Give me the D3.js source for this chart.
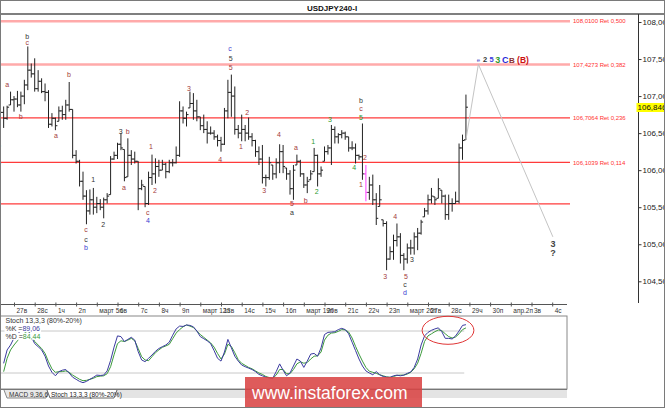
<!DOCTYPE html>
<html>
<head>
<meta charset="utf-8">
<script src="https://cdn.jsdelivr.net/npm/d3@7"></script>
<style>
html,body{margin:0;padding:0;background:#fff;}
svg{display:block;font-family:"Liberation Sans",Arial,sans-serif;}
</style>
</head>
<body>
<svg id="chart" width="665" height="408"></svg>
<script>
// USDJPY H4 bars, one per 4 hours
const barHigh = [106.81,106.86,106.87,107.06,107.00,107.07,107.06,107.22,107.67,107.44,
  107.51,107.35,107.24,107.17,107.08,106.77,106.71,106.86,106.87,106.95,
  107.19,106.82,106.27,106.14,105.98,105.73,105.74,105.76,105.64,105.61,
  105.63,105.69,106.19,106.25,106.37,106.50,106.28,106.43,106.27,106.25,
  106.12,105.87,105.78,105.98,106.21,106.16,106.14,106.14,106.10,106.14,
  106.15,106.32,106.93,106.86,106.79,107.06,107.04,106.95,106.72,106.75,
  106.66,106.59,106.54,106.48,106.45,106.84,107.22,107.29,107.13,106.61,
  106.75,106.61,106.71,106.50,106.41,106.32,106.34,105.94,106.18,106.07,
  106.16,106.35,106.34,106.03,106.00,106.07,106.21,106.14,105.96,105.91,
  106.00,106.30,106.21,106.05,106.32,106.34,106.61,106.59,106.50,106.54,
  106.52,106.45,106.39,106.36,106.21,106.63,106.07,105.91,105.94,105.69,
  105.80,105.33,105.31,104.97,105.13,105.28,105.15,104.88,105.01,105.06,
  105.16,105.22,105.33,105.49,105.67,105.76,105.64,105.89,105.73,105.67,
  105.67,105.62,105.71,106.36,106.48,107.02];
const barLow = [106.52,106.57,106.68,106.88,106.79,106.85,106.79,106.89,107.08,107.25,
  107.06,107.06,107.04,106.93,106.57,106.59,106.54,106.66,106.68,106.68,
  106.79,106.16,106.09,105.78,105.60,105.27,105.40,105.40,105.42,105.46,
  105.35,105.55,105.67,106.14,106.15,106.27,105.85,105.91,106.07,106.09,
  105.46,105.73,105.50,105.53,105.80,105.82,105.91,106.00,105.89,105.96,
  106.05,106.09,106.18,106.63,106.59,106.84,106.68,106.66,106.54,106.50,
  106.36,106.48,106.41,106.32,106.25,106.34,106.70,106.72,106.48,106.43,
  106.39,106.39,106.41,106.32,106.18,106.07,105.82,105.78,105.87,105.87,
  105.89,105.96,105.96,105.87,105.67,105.60,106.07,105.91,105.76,105.69,
  105.87,105.98,105.78,105.91,106.12,106.21,106.07,106.36,106.36,106.43,
  106.41,106.25,106.27,106.09,106.14,105.87,105.58,105.60,105.53,105.26,
  105.51,105.24,104.65,104.79,104.79,104.97,104.74,104.65,104.74,104.86,
  104.86,104.92,105.13,105.37,105.40,105.55,105.53,105.62,105.55,105.33,
  105.33,105.44,105.55,105.55,106.14,106.41];
const barOpen = [106.60,106.78,106.70,106.88,106.95,106.96,106.88,107.00,107.15,107.35,
  107.30,107.10,107.20,107.06,107.05,106.62,106.70,106.66,106.80,106.75,
  106.88,106.82,106.20,106.12,105.85,105.65,105.45,105.60,105.50,105.55,
  105.50,105.60,105.67,106.15,106.20,106.35,106.28,105.91,106.20,106.15,
  106.12,105.75,105.78,105.55,105.90,105.95,106.05,106.00,106.08,105.98,
  106.10,106.10,106.20,106.80,106.70,106.84,106.90,106.80,106.72,106.60,
  106.55,106.50,106.50,106.45,106.40,106.35,106.80,107.05,107.00,106.55,
  106.50,106.55,106.50,106.45,106.40,106.25,106.15,105.90,105.90,106.07,
  105.95,106.10,106.25,106.03,105.95,105.75,106.07,106.12,105.95,105.80,
  105.87,105.98,106.20,105.95,106.12,106.25,106.30,106.55,106.45,106.48,
  106.50,106.45,106.30,106.30,106.20,106.18,105.95,105.70,105.80,105.60,
  105.51,105.33,105.28,104.80,104.90,105.05,105.10,104.85,104.80,104.95,
  104.95,105.10,105.15,105.37,105.45,105.60,105.64,105.62,105.73,105.65,
  105.40,105.55,105.55,105.58,106.30,106.41];
const barClose = [106.78,106.70,106.85,106.95,106.96,106.88,107.00,107.15,107.35,107.30,
  107.10,107.20,107.06,107.05,106.62,106.70,106.60,106.80,106.75,106.88,
  106.82,106.20,106.12,105.85,105.65,105.45,105.60,105.50,105.55,105.50,
  105.60,105.65,106.15,106.20,106.35,106.30,105.90,106.20,106.15,106.12,
  105.75,105.80,105.55,105.90,105.95,106.05,106.00,106.08,105.98,106.10,
  106.10,106.20,106.80,106.70,106.75,106.90,106.80,106.72,106.60,106.55,
  106.50,106.50,106.45,106.40,106.35,106.80,107.05,107.00,106.55,106.50,
  106.55,106.50,106.45,106.40,106.25,106.15,105.90,105.90,106.10,105.95,
  106.10,106.25,106.05,105.95,105.75,106.00,106.12,105.95,105.80,105.85,
  105.95,106.20,105.95,106.00,106.25,106.30,106.55,106.45,106.48,106.50,
  106.45,106.30,106.30,106.20,106.18,105.95,105.70,105.80,105.60,105.35,
  105.60,105.28,104.80,104.90,105.05,105.10,104.85,104.80,104.95,104.95,
  105.10,105.15,105.30,105.45,105.60,105.65,105.60,105.75,105.65,105.40,
  105.55,105.55,105.58,106.30,106.40,106.85];
const markedBar = 106;
const lastPrice = 106.846;

// stochastic 13,3,3, from bar 1
const stochFirst = 1;
const stochK = [33.8,52.9,60,70,76,80,82,84,72,62,57.6,53,44,30,21,16,21.9,24,25,20,
  14,11,8,6.2,8,11,13.8,17,16.5,17,23,38,57,73,72,65,68,71,67,50.5,
  38.6,36.2,41,45.7,51,55,57.6,60,64,74,83,87,86.5,88.6,88,86,80,72,69,66,
  62,52,41,37,50,68,56,44,37,31.4,29,27,25,22,18,16,14,13,12.4,22,
  33,24,16,20,30,40,37,28,37,47,48,44,56,75,78,78.5,79,82,83.8,82,
  76,64,52,40,30,23,20,17.5,22,17.5,15,14,13.8,16,17,16,17,19.5,21.5,28,
  40,60,73,78,81,83,84.5,79,69.5,69.5,68.6,73,80,88,89.06];
const stochD = [21.9,41,52.9,60,66,72,77,80,74,65,60,55,48,36,26,21,21.9,22,23,21,
  17,14,11,9,9.5,11,12.4,14.8,15.5,16,19,29,46,62,66,65,67,69.5,66,55,
  43.3,38.6,37.6,43.3,49,53,56.7,58.6,61,69,77,82,86,88.6,87,85,80,75,71,67,
  63,57,48,40,47,61,58,49,39,33.8,31,28,26,23,20,18,15,13.5,12.4,17,
  25,25,19,19,25,33,36,34,35,40,44,44.5,50,67,74,77,77.6,79.5,82,81.5,
  78.5,70,58,47,37,28,22.5,21,19.5,17.5,16,14.5,13.8,15,16.5,17,17,18.5,21,26,
  34,48,65,73,76,79,81.5,80.5,76,72,70,71.5,76,82,84.44];
const stochLevels = [80, 20];

// Fibonacci retracement levels
const fibPrices = [108.0100, 107.4273, 106.7064, 106.1039];
const fibRatios = [0.500, 0.382, 0.236, 0.114];
const supportLevel = 105.544;

// axis ticks
const priceTicks = [104.5, 105, 105.5, 106, 106.5, 107, 107.5, 108];
const dayIdx = [4,10,16,22,28,34,40,46,52,58,64,70,76,82,88,94,100,106,112,118,124,130,136,142,148,154,160];
const dayLabels = ["27в","28с","1ч","2п","март 5п","6в","7с","8ч","9п","март 12п","13в","14с","15ч","16п",
  "март 19п","20в","21с","22ч","23п","март 26п","27в","28с","29ч","30п","апр.2п","3в","4с"];

// forecast path
const projIdx = [135, 138.6, 160.2];
const projPrice = [106.41, 107.43, 105.10];

// wave marks: bar index, price, text, colour key
const waveLabels = [
  [-0.4,106.33,"5","g"],[-0.4,106.24,"c","r"],[-0.4,106.12,"a","k"],
  [2.06,107.16,"a","r"],[5.94,106.72,"b","r"],[7.86,107.81,"b","k"],[7.86,107.72,"c","r"],
  [19.94,107.29,"b","r"],[16.17,106.47,"a","r"],[26.99,105.87,"1","k"],[29.88,105.26,"2","k"],
  [24.87,105.20,"c","r"],[24.87,105.07,"c","k"],[24.87,104.95,"b","b"],
  [34.93,106.52,"3","k"],[36.96,106.52,"b","r"],[35.88,105.76,"a","r"],
  [43.71,106.32,"1","r"],[44.87,105.73,"2","r"],[42.75,105.43,"c","r"],[42.84,105.32,"4","b"],
  [54.72,107.10,"3","r"],[63.80,106.15,"4","r"],
  [66.61,107.64,"c","b"],[66.81,107.51,"5","k"],[66.81,107.38,"5","r"],
  [69.80,106.32,"1","r"],[71.62,106.78,"2","r"],[76.55,105.72,"3","r"],[80.81,106.48,"4","r"],
  [84.58,105.55,"5","r"],[84.58,105.43,"a","k"],[85.74,106.31,"a","r"],[88.55,105.59,"b","r"],
  [90.75,106.38,"1","g"],[91.74,105.71,"2","g"],[95.59,106.69,"3","g"],[102.64,106.03,"4","g"],
  [104.58,106.94,"b","k"],[104.58,106.83,"c","r"],[104.58,106.71,"5","g"],
  [105.74,106.17,"2","r"],[104.58,105.81,"1","r"],
  [111.62,104.56,"3","r"],[114.52,105.37,"4","r"],[117.62,104.56,"5","r"],
  [117.33,104.46,"c","k"],[117.33,104.35,"d","b"],[119.36,104.80,"3","k"]
];
// target marks at the forecast turn
const targetIdx = [138.58,140.52,142.46,144.2,146.41,148.35,151.54];
const targetText = ["e","2","5","3","C","B","(B)"];
const targetColor = ["#4a4ac8","#333","#3a3ae0","#2e9a2e","#2a2ad8","#8a3030","#cc1111"];
const targetSize = [6,7.5,7.5,9,9,8,8.5];
const targetPrice = 107.49;
const endMark = ["3","?"];
const endMarkPrice = [105.00, 104.89];

const palette = {r:"#a33a3a", k:"#333", b:"#3a3ad0", g:"#2e9a2e"};
const comma = f => v => d3.format(f)(v).replace(".", ",");

const svg = d3.select("#chart");
const xS = d3.scaleLinear().domain([0, 160]).range([0.2, 552.2]);
const yS = d3.scaleLinear().domain([104.5, 108]).range([281.3, 22]);
const sS = d3.scaleLinear().domain([0, 100]).range([387, 317]);

svg.append("rect").attr("width",665).attr("height",408).attr("fill","#fff");

// header
svg.append("text").attr("x",332).attr("y",10.5).attr("text-anchor","middle")
  .attr("font-size",8).attr("font-weight","bold").attr("fill","#111").text("USDJPY240-I");
svg.append("line").attr("x1",0).attr("x2",665).attr("y1",14).attr("y2",14)
  .attr("stroke","#555").attr("stroke-width",1.5);

svg.append("clipPath").attr("id","plotClip").append("rect")
  .attr("x",0).attr("y",15).attr("width",570).attr("height",288);
const plot = svg.append("g").attr("clip-path","url(#plotClip)");

// fib lines
plot.selectAll(".fib").data(fibPrices).enter().append("line")
  .attr("x1",0).attr("x2",570)
  .attr("y1",d=>yS(d)).attr("y2",d=>yS(d))
  .attr("stroke",(d,i)=>fibRatios[i]>=0.38 ? "#ffaaaa" : "#ff3b3b")
  .attr("stroke-width",(d,i)=>fibRatios[i]>=0.38 ? 2.5 : 1.2);
plot.append("line").attr("x1",0).attr("x2",570)
  .attr("y1",yS(supportLevel)).attr("y2",yS(supportLevel))
  .attr("stroke","#ff3b3b").attr("stroke-width",1.2);

svg.selectAll(".fibLbl").data(fibPrices).enter().append("text")
  .attr("x",573).attr("y",d=>yS(d)).attr("dy","0.35em")
  .attr("font-size",6).attr("fill","#ff3030")
  .text((d,i)=>comma(".4f")(d)+" Ret "+comma(".3f")(fibRatios[i]));

// OHLC bars
plot.selectAll(".bar").data(barHigh).enter().append("path")
  .attr("fill","none")
  .attr("stroke",(d,i)=>i===markedBar ? "#ff40ff" : "#222")
  .attr("stroke-width",1)
  .attr("d",(d,i)=>{
    const x = xS(i);
    return `M${x},${yS(barHigh[i])}V${yS(barLow[i])}M${x-2},${yS(barOpen[i])}H${x}M${x},${yS(barClose[i])}H${x+2}`;
  });

// forecast path
plot.append("path")
  .datum(projIdx.map((d,i)=>[d,projPrice[i]]))
  .attr("fill","none").attr("stroke","#c4c4c4").attr("stroke-width",1)
  .attr("d",d3.line().x(d=>xS(d[0])).y(d=>yS(d[1])));

// wave labels
svg.selectAll(".wl").data(waveLabels).enter().append("text")
  .attr("x",d=>xS(d[0])).attr("y",d=>yS(d[1])).attr("dy","0.35em")
  .attr("text-anchor","middle").attr("font-size",7)
  .attr("fill",d=>palette[d[3]]).text(d=>d[2]);

svg.selectAll(".tg").data(targetText).enter().append("text")
  .attr("x",(d,i)=>xS(targetIdx[i])).attr("y",yS(targetPrice)).attr("dy","0.35em")
  .attr("text-anchor","middle").attr("font-weight",(d,i)=>i===0?"normal":"bold")
  .attr("font-size",(d,i)=>targetSize[i]).attr("fill",(d,i)=>targetColor[i]).text(d=>d);

svg.selectAll(".em").data(endMark).enter().append("text")
  .attr("x",xS(projIdx[2])).attr("y",(d,i)=>yS(endMarkPrice[i])).attr("dy","0.35em")
  .attr("text-anchor","middle").attr("font-size",9).attr("font-weight","bold")
  .attr("fill","#444").text(d=>d);

// right price axis
svg.append("line").attr("x1",638.5).attr("x2",638.5).attr("y1",14).attr("y2",303)
  .attr("stroke","#333");
const yAxis = svg.append("g").attr("transform","translate(638.5,0)")
  .call(d3.axisRight(yS).tickValues(priceTicks).tickSize(3).tickPadding(1).tickFormat(comma(".3f")));
yAxis.select(".domain").remove();
yAxis.selectAll("text").attr("font-size",8).attr("font-family","Liberation Sans, Arial, sans-serif").attr("fill","#222");
yAxis.selectAll("line").attr("stroke","#333");

// current price tag
svg.append("rect").attr("x",636.5).attr("y",yS(lastPrice)-4.5).attr("width",29).attr("height",9)
  .attr("fill","#ffff00");
svg.append("text").attr("x",637.5).attr("y",yS(lastPrice)).attr("dy","0.35em")
  .attr("font-size",8).attr("fill","#111").text(comma(".3f")(lastPrice));

// time axis
svg.append("line").attr("x1",0).attr("x2",567).attr("y1",304.5).attr("y2",304.5).attr("stroke","#555");
const xAxis = svg.append("g").attr("transform","translate(0,302.5)")
  .call(d3.axisBottom(xS).tickValues(dayIdx).tickSize(4).tickFormat((d,i)=>dayLabels[i]));
xAxis.select(".domain").remove();
xAxis.selectAll("line").attr("stroke","#555");
xAxis.selectAll("text").attr("text-anchor","start").attr("x",2).attr("y",8).attr("dy","0.35em")
  .attr("font-size",6.5).attr("font-family","Liberation Sans, Arial, sans-serif").attr("fill","#333");

// stochastic panel
svg.append("rect").attr("x",0.5).attr("y",316).attr("width",566.5).attr("height",73)
  .attr("fill","#fff").attr("stroke","#888");
svg.selectAll(".lvl").data(stochLevels).enter().append("line")
  .attr("x1",0).attr("x2",xS(134.5)).attr("y1",d=>sS(d)).attr("y2",d=>sS(d))
  .attr("stroke","#c8c8c8").attr("stroke-width",1);
const sLine = d3.line().x((d,i)=>xS(i+stochFirst)).y(d=>sS(d));
svg.append("path").datum(stochD).attr("fill","none").attr("stroke","#3c9a3c").attr("stroke-width",1).attr("d",sLine);
svg.append("path").datum(stochK).attr("fill","none").attr("stroke","#3b3ba0").attr("stroke-width",1).attr("d",sLine);

const legend = svg.append("g");
const legendRows = [
  [{t:"Stoch 13,3,3 (80%-20%)",c:"#333"}],
  [{t:"%K =",c:"#333"},{t:comma(".2f")(stochK[stochK.length-1]),c:"#3b3ba0"}],
  [{t:"%D =",c:"#333"},{t:comma(".2f")(stochD[stochD.length-1]),c:"#3c9a3c"}]
];
legendRows.forEach((row,r)=>{
  const y = 321 + r*7.7;
  const bg = legend.append("rect").attr("fill","#fff");
  const t = legend.append("text").attr("x",5.5).attr("y",y).attr("dy","0.35em").attr("font-size",7);
  row.forEach(p=>t.append("tspan").attr("fill",p.c).text(p.t));
  const b = t.node().getBBox();
  bg.attr("x",b.x-1).attr("y",b.y).attr("width",b.width+2).attr("height",b.height);
});

// circled zone on the oscillator
svg.append("ellipse")
  .attr("cx",(xS(122.3)+xS(137.3))/2).attr("cy",(sS(101)+sS(61))/2)
  .attr("rx",(xS(137.3)-xS(122.3))/2).attr("ry",(sS(61)-sS(101))/2)
  .attr("fill","none").attr("stroke","#e03535").attr("stroke-width",1);

// tabs
svg.append("rect").attr("x",117).attr("y",390).attr("width",450).attr("height",8).attr("fill","#e4e4e4");
svg.append("path").attr("d","M4,390 L7,398 L46,398 L49,390").attr("fill","#e8e8e8").attr("stroke","#888");
svg.append("path").attr("d","M47,390 L50,398 L114,398 L117,390").attr("fill","#fff").attr("stroke","#666");
svg.append("text").attr("x",9).attr("y",394.5).attr("dy","0.35em").attr("font-size",6.5).attr("fill","#333").text("MACD 9,36,6");
svg.append("text").attr("x",51).attr("y",394.5).attr("dy","0.35em").attr("font-size",6.5).attr("fill","#222").text("Stoch 13,3,3 (80%-20%)");
svg.append("line").attr("x1",0).attr("x2",567).attr("y1",389.5).attr("y2",389.5).attr("stroke","#777");

// watermark
svg.append("rect").attr("x",245).attr("y",377).attr("width",177).attr("height",31)
  .attr("fill","#d94444").attr("opacity",0.88);
svg.append("text").attr("x",252).attr("y",398.5).attr("font-size",17.5).attr("fill","#fff")
  .text("www.instaforex.com");

// outer frame
svg.append("rect").attr("x",0.5).attr("y",0.5).attr("width",664).attr("height",407)
  .attr("fill","none").attr("stroke","#7a7a7a");
</script>
</body>
</html>
